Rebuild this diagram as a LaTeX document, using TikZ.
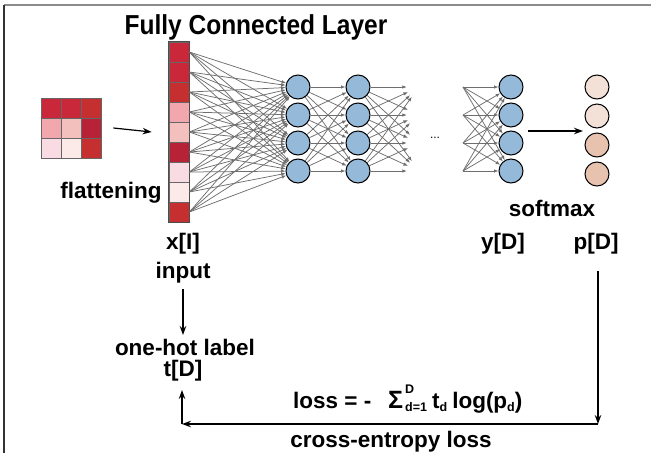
\documentclass[tikz,border=0pt]{standalone}
\usepackage{fontspec}
\setmainfont{Liberation Sans}
\usetikzlibrary{arrows.meta}

\definecolor{cRed}{HTML}{C8283A}
\definecolor{cRedB}{HTML}{C62F30}
\definecolor{cDark}{HTML}{B72236}
\definecolor{cPink}{HTML}{F2A7AE}
\definecolor{cRose}{HTML}{F4C0BE}
\definecolor{cBlush}{HTML}{F9DCE3}
\definecolor{cShell}{HTML}{FCEAE8}
\definecolor{nBlue}{HTML}{95B9D9}
\definecolor{sLight}{HTML}{F3E1D8}
\definecolor{sPeach}{HTML}{E7C2AF}
\definecolor{wire}{HTML}{6E6E6E}

% small sub/superscripts for the loss formula
\newcommand\lsupsub[2]{\makebox[0pt][l]{\raisebox{1.2ex}{\fontsize{12.5}{12.5}\selectfont #1}}\raisebox{-0.3ex}{\fontsize{12.5}{12.5}\selectfont #2}}
\newcommand\lsub[1]{\raisebox{-0.3ex}{\fontsize{12.5}{12.5}\selectfont #1}}

\begin{document}
\begin{tikzpicture}[x=1pt,y=-1pt,
  lbl/.style={font=\fontsize{22.5}{26}\selectfont\bfseries, inner sep=0pt},
  ttl/.style={font=\fontsize{24.5}{28}\selectfont\bfseries, inner sep=0pt, yscale=1.12},
  cell/.style={draw=gray!80!black, line width=0.8pt, minimum width=20pt, minimum height=20pt, inner sep=0pt},
  neuron/.style={circle, draw=black, line width=1pt, fill=nBlue, minimum size=24pt, inner sep=0pt},
  ghost/.style={circle, minimum size=24pt, inner sep=0pt},
  conn/.style={draw=wire, line width=0.75pt, -{Latex[length=4.5pt,width=3.5pt]}},
  arr/.style={draw=black, line width=1.2pt, -{Stealth[length=9pt,width=6.5pt]}}
]
\useasboundingbox (0,0) rectangle (651,453);

% frame edges
\draw[draw=gray!90, line width=1.4pt] (4,5) -- (651,5);
\draw[draw=black!80, line width=1.4pt] (4,5) -- (4,453);

% title
\node[ttl, anchor=base] (title) at (256,34) {Fully Connected Layer};

% 3x3 input image
\foreach \c/\cc/\rr in {cRed/1/1, cRed/2/1, cRedB/3/1, cPink/1/2, cRose/2/2, cDark/3/2, cBlush/1/3, cShell/2/3, cRedB/3/3}
  \node[cell, fill=\c] (g\rr\cc) at ({31+20*\cc},{88+20*\rr}) {};

% flattened vector x[I]
\foreach \c [count=\k] in {cRed,cRed,cRedB,cPink,cRose,cDark,cBlush,cShell,cRedB}
  \node[cell, fill=\c] (x\k) at (179,{32+20*\k}) {};
\draw[draw=gray!60!black, line width=1pt] (x1.north west) rectangle (x9.south east);

% layers
\foreach \j in {1,...,4} {
  \pgfmathsetmacro\yy{59+28*\j}
  \node[neuron] (h1\j) at (298,\yy) {};
  \node[neuron] (h2\j) at (358,\yy) {};
  \node[ghost]  (h3\j) at (419,\yy) {};
  \coordinate   (s\j)  at (463,\yy);
  \node[neuron] (o\j)  at (511,\yy) {};
}
\foreach \j/\c in {1/sLight,2/sLight,3/sPeach,4/sPeach}
  \node[neuron, fill=\c] (p\j) at (597,{58+29*\j}) {};

% dense connections
\foreach \i in {1,...,9}
  \foreach \j in {1,...,4}
    \draw[conn] (x\i.east) -- (h1\j);
\foreach \i in {1,...,4}
  \foreach \j in {1,...,4} {
    \draw[conn] (h1\i) -- (h2\j);
    \draw[conn] (h2\i) -- (h3\j);
    \draw[conn] (s\i) -- (o\j);
  }

\node[font=\fontsize{12}{12}\selectfont, inner sep=0pt] (dots) at (435,138) {...};

% labels
\node[lbl, anchor=base] (flat) at (111,198) {flattening};
\node[lbl, anchor=base] (xI)   at (183,249) {x[I]};
\node[lbl, anchor=base] (inp)  at (183,278) {input};
\node[lbl, anchor=base] (oh)   at (185,355) {one-hot label};
\node[lbl, anchor=base] (tD)   at (183,376) {t[D]};
\node[lbl, anchor=base] (yD)   at (503,249) {y[D]};
\node[lbl, anchor=base] (pD)   at (596,249) {p[D]};
\node[lbl, anchor=base] (smax) at (552,216) {softmax};
\node[lbl, anchor=base west] (lossf) at (293,408)
  {loss = -\hspace{0.75em}{\fontsize{25}{25}\selectfont Σ}\kern2pt\lsupsub{D}{d=1}\kern5pt t\lsub{d}\kern5pt log(p\lsub{d})};
\node[lbl, anchor=base] (ce) at (391,447) {cross-entropy loss};

% black arrows
\draw[arr] ([xshift=12pt]g23.east) -- ([xshift=-17pt]x5.west);
\coordinate (ya) at (528,131);
\coordinate (pa) at (583,131);
\draw[arr] (ya) -- (pa);
\coordinate (inA) at (183,289);
\coordinate (ohA) at (183,335);
\draw[arr] (inA) -- (ohA);
\coordinate (pdA) at (598,271);
\coordinate (cR)  at (598,424);
\coordinate (cL)  at (182,424);
\coordinate (tdA) at (182,390);
\draw[arr] (pdA) -- (cR);
\draw[arr] (cR) -- (cL);
\draw[arr] (cL) -- (tdA);
\end{tikzpicture}
\end{document}
